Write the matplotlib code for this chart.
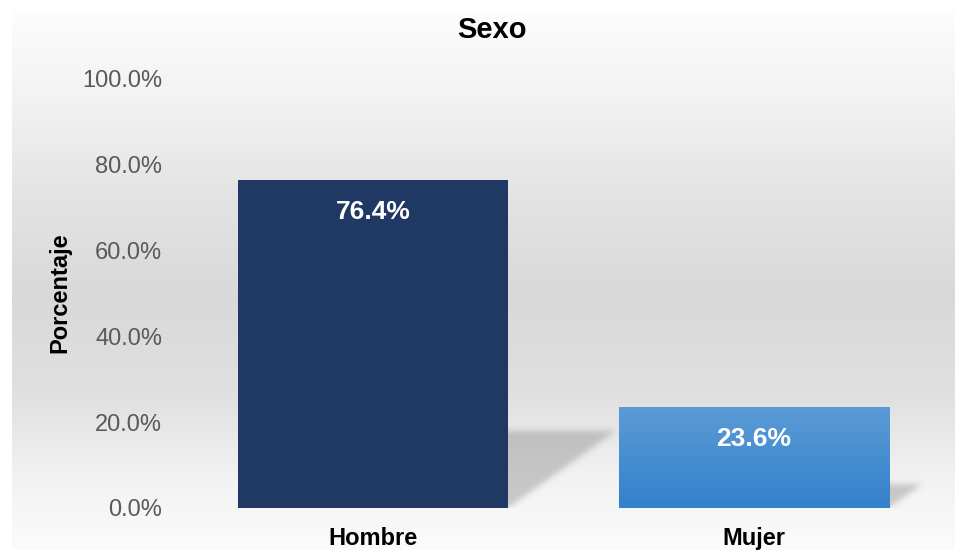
import numpy as np
import matplotlib
matplotlib.use('Agg')
import matplotlib.pyplot as plt
from matplotlib.ticker import FuncFormatter

categories = ['Hombre', 'Mujer']
values = [76.4, 23.6]
labels = ['76.4%', '23.6%']
yticks = [0, 20, 40, 60, 80, 100]

plt.rcParams['font.family'] = ['Liberation Sans', 'DejaVu Sans']

fig = plt.figure(figsize=(9.55, 5.5), dpi=100)
fig.patch.set_facecolor('white')

# background gradient (light at top and bottom, gray in the middle)
bg = fig.add_axes([12 / 955, 0, 943 / 955, 538 / 550])
rows = np.linspace(0, 1, 300)
stops = [0.0, 0.16, 0.35, 0.53, 0.72, 0.87, 1.0]
shade = [0.99, 0.95, 0.89, 0.85, 0.88, 0.95, 0.985]
col = np.interp(rows, stops, shade)
grad = np.repeat(col[:, None], 2, axis=1)
bg.imshow(np.dstack([grad, grad, grad]), aspect='auto', extent=[0, 1, 0, 1],
          origin='upper', interpolation='bilinear')
bg.axis('off')

ax = fig.add_axes([183 / 955, 42 / 550, 761 / 955, 429 / 550])
ax.patch.set_alpha(0)
ax.set_xlim(-0.5, 1.5)
ax.set_ylim(0, 100)

width = 0.71
x = np.arange(len(categories))

# blurred perspective shadows behind the bars
xs = np.linspace(-0.5, 1.5, 761)
ys = np.linspace(0, 100, 429)
X, Y = np.meshgrid(xs, ys)
mask = np.zeros_like(X)
for i, h in zip(x, values):
    top = 0.235 * h
    dx = 0.0037 * h
    shift = dx * Y / top
    inside = (Y <= top) & (X >= i - width / 2 + shift) & (X <= i + width / 2 + shift)
    mask[inside] = 1.0

def box_blur(a, k, axis):
    kern = np.ones(k) / k
    return np.apply_along_axis(lambda v: np.convolve(v, kern, mode='same'), axis, a)

for _ in range(2):
    mask = box_blur(mask, 7, 0)
    mask = box_blur(mask, 7, 1)

shadow = np.zeros(mask.shape + (4,))
shadow[..., :3] = 0.5
shadow[..., 3] = 0.38 * mask
ax.imshow(shadow, extent=[-0.5, 1.5, 0, 100], origin='lower', aspect='auto',
          zorder=1, interpolation='bilinear')

bars = ax.bar(x, values, width=width, color=['#203864', '#4a8fd3'], zorder=2)

# vertical gradient for the second bar
blue = np.linspace(0, 1, 100)[:, None]
top_c = np.array([0x5b, 0x9b, 0xd5]) / 255
bot_c = np.array([0x33, 0x81, 0xcc]) / 255
g = bot_c[None, None, :] * (1 - blue[..., None]) + top_c[None, None, :] * blue[..., None]
g = np.repeat(g, 2, axis=1)
b = bars[1]
im = ax.imshow(g, extent=[b.get_x(), b.get_x() + b.get_width(), 0, b.get_height()],
               origin='lower', aspect='auto', zorder=3)
im.set_clip_path(b)

ax.set_xlim(-0.5, 1.5)
ax.set_ylim(0, 100)

for i, h, lab in zip(x, values, labels):
    ax.annotate(lab, xy=(i, h), xytext=(0, -23), textcoords='offset points',
                ha='center', va='center', color='white', fontsize=19,
                fontweight='bold', zorder=4)

ax.set_xticks(x)
ax.set_xticklabels(categories, fontsize=17, fontweight='bold', color='black')
ax.set_yticks(yticks)
ax.yaxis.set_major_formatter(FuncFormatter(lambda v, p: '%.1f%%' % v))
ax.tick_params(axis='y', labelsize=17, labelcolor='#595959', length=0, pad=15)
ax.tick_params(axis='x', length=0, pad=14)
for s in ax.spines.values():
    s.set_visible(False)

fig.text(492 / 955, 1 - 30 / 550, 'Sexo', ha='center', va='center',
         fontsize=21, fontweight='bold')
fig.text(60 / 955, 1 - 293 / 550, 'Porcentaje', ha='center', va='center',
         rotation=90, fontsize=17, fontweight='bold')

fig.savefig('out.png', dpi=100)
